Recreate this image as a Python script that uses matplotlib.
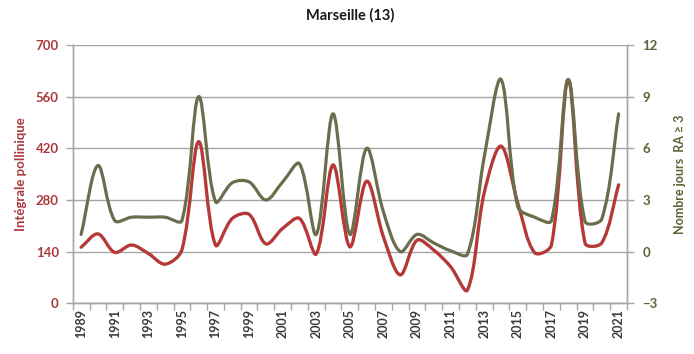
import numpy as np
import matplotlib
matplotlib.use("Agg")
import matplotlib.pyplot as plt
from matplotlib.path import Path
from matplotlib.patches import PathPatch
import matplotlib.patheffects as pe

plt.rcParams['font.family'] = ['Lato', 'DejaVu Sans']

# Données annuelles
annees = list(range(1989, 2022))
integrale = [152, 188, 138, 158, 135, 106, 145, 438, 158, 230, 241, 161, 203, 230, 134,
             375, 153, 331, 180, 77, 171, 144, 99, 36, 300, 426, 271, 137, 158, 605,
             163, 164, 321]
jours_ra = [1.0, 5.0, 1.8, 2.0, 2.0, 2.0, 1.8, 9.0, 2.9, 4.0, 4.05, 3.0, 4.05, 5.1, 1.0,
            8.0, 1.0, 6.0, 2.3, 0.0, 1.0, 0.5, 0.05, -0.15, 5.5, 10.0, 2.6, 2.0, 1.8, 10.0,
            1.75, 1.9, 8.0]

rouge = '#CC2E2E'
rouge_bord = '#9C4A47'
olive = '#6B6D4C'
txt_rouge = '#A9393C'
txt_olive = '#5C6236'
gris = '#A6A6A6'


def courbe_lissee(axe, x, y):
    # Bézier passant par chaque point, tangentes pondérées par la longueur des segments (écran)
    p = np.column_stack([x, y]).astype(float)
    e = axe.transData.transform(p)
    pp = np.vstack([p[0], p, p[-1]])
    ee = np.vstack([e[0], e, e[-1]])
    verts = [p[0]]
    codes = [Path.MOVETO]
    for i in range(len(p) - 1):
        p0, p1, p2, p3 = pp[i], pp[i + 1], pp[i + 2], pp[i + 3]
        e0, e1, e2, e3 = ee[i], ee[i + 1], ee[i + 2], ee[i + 3]
        d01 = np.hypot(*(e1 - e0))
        d12 = np.hypot(*(e2 - e1))
        d23 = np.hypot(*(e3 - e2))
        f1 = d12 / (d01 + d12) if d01 + d12 > 0 else 0.5
        f2 = d12 / (d12 + d23) if d12 + d23 > 0 else 0.5
        verts += [p1 + (p2 - p0) * f1 / 3, p2 - (p3 - p1) * f2 / 3, p2]
        codes += [Path.CURVE4] * 3
    return Path(verts, codes)


fig = plt.figure(figsize=(6.94, 3.54), dpi=100)
ax = fig.add_axes([0.1048, 0.1432, 0.7987, 0.7298])
ax2 = ax.twinx()

x = np.arange(len(annees))

ax.set_xlim(-0.5, len(annees) - 0.5)
ax.set_ylim(0, 700)
ax2.set_ylim(-3, 12)
ax.set_yticks(np.arange(0, 701, 140))
ax2.set_yticks(np.arange(-3, 13, 3))

ligne1 = PathPatch(courbe_lissee(ax, x, integrale), fill=False, edgecolor=rouge, lw=1.2,
                   capstyle='round', joinstyle='round', zorder=3)
ligne1.set_path_effects([pe.Stroke(linewidth=2.4, foreground=rouge_bord), pe.Normal()])
ax.add_patch(ligne1)

ligne2 = PathPatch(courbe_lissee(ax2, x, jours_ra), fill=False, edgecolor=olive, lw=2.3,
                   capstyle='round', joinstyle='round', zorder=3)
ax2.add_patch(ligne2)

ax.set_xticks(x[::2])
ax.set_xticklabels([str(a) for a in annees[::2]], rotation=90, fontsize=9,
                   fontweight='bold', color='#3A3A3A')
ax.set_xticks(np.arange(-0.5, len(annees), 1), minor=True)
ax.tick_params(axis='x', which='major', length=0, pad=4)
ax.tick_params(axis='x', which='minor', length=5, color=gris, width=1)

ax.tick_params(axis='y', length=5, color=gris, width=1, labelsize=9.5, labelcolor=txt_rouge, pad=5)
ax2.tick_params(axis='y', length=5, color=gris, width=1, labelsize=9.5, labelcolor=txt_olive, pad=6)
for t in ax.get_yticklabels():
    t.set_fontweight('bold')
for t in ax2.get_yticklabels():
    t.set_fontweight('bold')

ax.grid(axis='y', color=gris, lw=1)
ax.set_axisbelow(True)
for a in (ax, ax2):
    a.spines['top'].set_visible(False)
    for s in ('left', 'right', 'bottom'):
        a.spines[s].set_color(gris)
        a.spines[s].set_linewidth(1)

ax.set_ylabel('Intégrale pollinique', color=txt_rouge, fontsize=9.5, fontweight='bold', labelpad=6)
ax2.set_ylabel('Nombre jours  RA ≥ 3', color=txt_olive, fontsize=9, fontweight='bold', labelpad=12)
ax.set_title('Marseille (13)', fontsize=10.5, fontweight='bold', color='#1A1A1A', pad=18)

fig.savefig('out.png', dpi=100)
